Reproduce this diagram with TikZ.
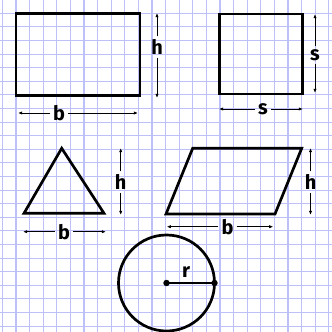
\documentclass[tikz,border=0pt]{standalone}
\usepackage{fontspec}
\setsansfont{Fira Sans}
\usepackage{xcolor}
\usetikzlibrary{arrows.meta}
\definecolor{gridblue}{RGB}{190,192,250}

\begin{document}
\begin{tikzpicture}[>={Latex[length=3.5pt,width=2.8pt]}, x=0.03cm, y=-0.03cm,
  outline/.style={line width=2.3pt, line join=miter},
  gridline/.style={gridblue, line width=1pt},
  dimline/.style={->, line width=0.8pt, black},
  lbl/.style={font=\sffamily\bfseries\fontsize{17}{17}\selectfont, inner sep=2.5pt},
  dot/.style={circle, fill, inner sep=0pt, minimum size=5.5pt}]
  \useasboundingbox (0,0) rectangle (332,332);
  \fill[white] (0,0) rectangle (332,332);
  \foreach \k in {-1,...,23} {
    \draw[gridline] ({16+13.6*\k},0) -- ({16+13.6*\k},332);
    \draw[gridline] (0,{13.3+13.6*\k}) -- (332,{13.3+13.6*\k});
  }
  % rectangle
  \draw[outline] (16,13.3) rectangle (140,95.7);
  \node[lbl] (hRect) at (157,47) {h};
  \coordinate (hRectTop) at (157,13);
  \coordinate (hRectBot) at (157,98);
  \draw[dimline] (hRect) -- (hRectTop);
  \draw[dimline] (hRect) -- (hRectBot);
  \node[lbl] (bRect) at (59,113) {b};
  \coordinate (bRectL) at (18,113);
  \coordinate (bRectR) at (138,113);
  \draw[dimline] (bRect) -- (bRectL);
  \draw[dimline] (bRect) -- (bRectR);
  % square
  \draw[outline] (219.5,14) rectangle (302.5,94);
  \node[lbl] (sSqV) at (315,55) {s};
  \coordinate (sSqTop) at (315,14);
  \coordinate (sSqBot) at (315,93);
  \draw[dimline] (sSqV) -- (sSqTop);
  \draw[dimline] (sSqV) -- (sSqBot);
  \node[lbl] (sSqH) at (263,109) {s};
  \coordinate (sSqL) at (219,109);
  \coordinate (sSqR) at (303,109);
  \draw[dimline] (sSqH) -- (sSqL);
  \draw[dimline] (sSqH) -- (sSqR);
  % triangle
  \draw[outline] (24,213.3) -- (61.7,148.3) -- (104,213.3) -- cycle;
  \node[lbl] (hTri) at (120.7,182) {h};
  \coordinate (hTriTop) at (120.7,148);
  \coordinate (hTriBot) at (120.7,215);
  \draw[dimline] (hTri) -- (hTriTop);
  \draw[dimline] (hTri) -- (hTriBot);
  \node[lbl] (bTri) at (64,231.7) {b};
  \coordinate (bTriL) at (23,231.7);
  \coordinate (bTriR) at (106,231.7);
  \draw[dimline] (bTri) -- (bTriL);
  \draw[dimline] (bTri) -- (bTriR);
  % parallelogram
  \draw[outline] (166,214) -- (192.7,148.3) -- (301.7,148.3) -- (275,214) -- cycle;
  \node[lbl] (hPar) at (310.5,182) {h};
  \coordinate (hParTop) at (310.5,148);
  \coordinate (hParBot) at (310.5,215);
  \draw[dimline] (hPar) -- (hParTop);
  \draw[dimline] (hPar) -- (hParBot);
  \node[lbl] (bPar) at (227.5,226.7) {b};
  \coordinate (bParL) at (166.7,226.7);
  \coordinate (bParR) at (273.3,226.7);
  \draw[dimline] (bPar) -- (bParL);
  \draw[dimline] (bPar) -- (bParR);
  % circle
  \draw[outline] (166.5,283) circle (48);
  \node[dot] (ctr) at (166.5,283) {};
  \node[dot] (rim) at (214.5,283) {};
  \draw[line width=2.3pt] (ctr.center) -- (rim.center);
  \node[lbl] (rLbl) at (186,272) {r};
\end{tikzpicture}
\end{document}
